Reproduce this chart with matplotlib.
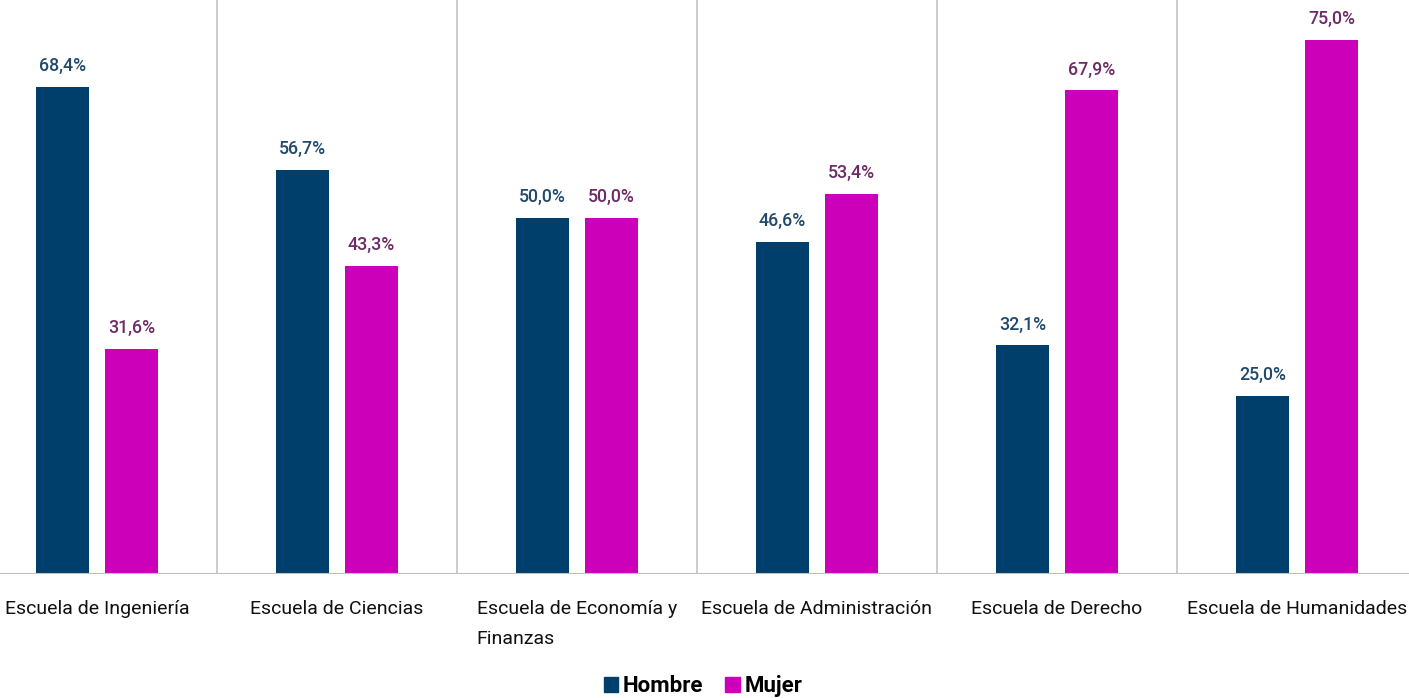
import matplotlib
matplotlib.use("Agg")
import matplotlib.pyplot as plt
import numpy as np

categories = [
    "Escuela de Ingeniería",
    "Escuela de Ciencias",
    "Escuela de Economía y\nFinanzas",
    "Escuela de Administración",
    "Escuela de Derecho",
    "Escuela de Humanidades",
]
hombre = [68.4, 56.7, 50.0, 46.6, 32.1, 25.0]
mujer = [31.6, 43.3, 50.0, 53.4, 67.9, 75.0]
series_names = ["Hombre", "Mujer"]

bar_colors = ["#003f6b", "#cc00b8"]
label_colors = ["#1f4a6e", "#6e2a66"]

plt.rcParams["font.family"] = ["Roboto", "DejaVu Sans"]

fig = plt.figure(figsize=(14.09, 6.98), dpi=100)
ax = fig.add_axes([0, 1 - 574 / 698, 1, 574 / 698])

x = np.arange(len(categories))
w = 0.22
off = 0.144

for vals, dx, col, lcol in [(hombre, -off, bar_colors[0], label_colors[0]),
                            (mujer, off, bar_colors[1], label_colors[1])]:
    bars = ax.bar(x + dx, vals, width=w, color=col, zorder=3)
    for b, v in zip(bars, vals):
        ax.annotate(f"{v:.1f}%".replace(".", ","),
                    (b.get_x() + b.get_width() / 2, v),
                    xytext=(0, 8.5), textcoords="offset points",
                    ha="center", va="bottom", fontsize=12.8,
                    fontweight="medium", color=lcol)

ax.set_xlim(-0.404, 5.467)
ax.set_ylim(0, 80.6)

for i in range(len(categories) - 1):
    ax.axvline(i + 0.5, color="#c8c8c8", lw=1.3, zorder=1)
ax.axhline(0, color="#bfbfbf", lw=1.5, zorder=4)

for s in ax.spines.values():
    s.set_visible(False)
ax.set_yticks([])
ax.set_xticks([])

for xi, c in zip(x, categories):
    ax.text(xi, -3.7, c, ha="center", va="top", multialignment="left",
            fontsize=14, color="#111111", linespacing=1.8)

# legend
handles = [plt.Rectangle((0, 0), 1, 1, color=c) for c in bar_colors]
leg = fig.legend(handles, series_names, loc="center", bbox_to_anchor=(703 / 1409, 1 - 686 / 698),
                 ncol=2, frameon=False, handlelength=0.65, handleheight=0.65,
                 handletextpad=0.2, columnspacing=1.0,
                 prop={"weight": "bold", "size": 16})

fig.savefig("out.png", dpi=100)
